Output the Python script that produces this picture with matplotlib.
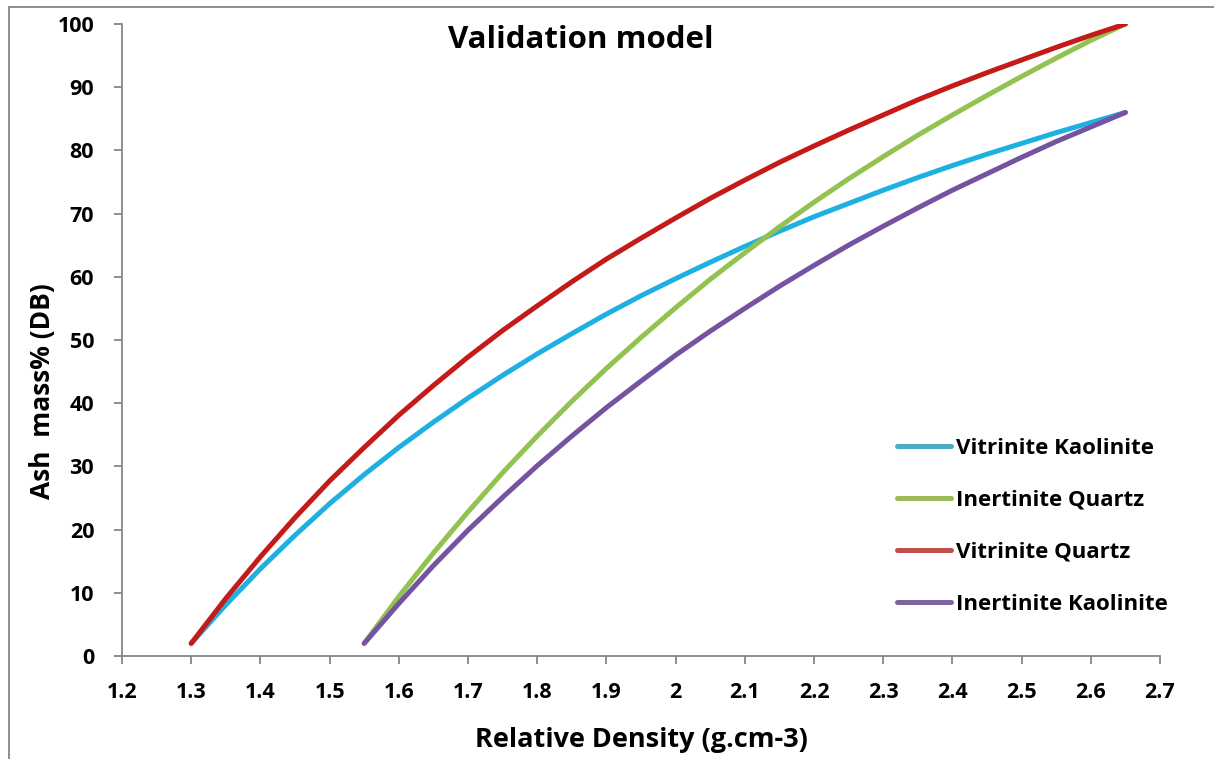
import matplotlib
matplotlib.use("Agg")
import matplotlib.pyplot as plt
from matplotlib.lines import Line2D
from matplotlib.patches import Rectangle
from matplotlib.ticker import FormatStrFormatter, MultipleLocator

# relative density (g.cm-3) vs ash mass% (DB)
vit_density = [1.30, 1.35, 1.40, 1.45, 1.50, 1.55, 1.60, 1.65, 1.70, 1.75,
               1.80, 1.85, 1.90, 1.95, 2.00, 2.05, 2.10, 2.15, 2.20, 2.25,
               2.30, 2.35, 2.40, 2.45, 2.50, 2.55, 2.60, 2.65]
vit_kaolinite = [2.0, 8.1, 13.8, 19.1, 24.1, 28.7, 33.0, 37.0, 40.8, 44.4,
                 47.8, 51.0, 54.1, 57.0, 59.7, 62.3, 64.8, 67.2, 69.5, 71.6,
                 73.7, 75.7, 77.6, 79.4, 81.1, 82.8, 84.4, 86.0]
vit_quartz = [2.0, 9.1, 15.7, 21.9, 27.7, 33.0, 38.1, 42.8, 47.3, 51.5,
              55.4, 59.2, 62.8, 66.1, 69.3, 72.4, 75.3, 78.1, 80.7, 83.2,
              85.6, 88.0, 90.2, 92.3, 94.3, 96.3, 98.2, 100.0]

ine_density = [1.55, 1.60, 1.65, 1.70, 1.75, 1.80, 1.85, 1.90, 1.95, 2.00,
               2.05, 2.10, 2.15, 2.20, 2.25, 2.30, 2.35, 2.40, 2.45, 2.50,
               2.55, 2.60, 2.65]
ine_quartz = [2.0, 9.4, 16.3, 22.8, 29.0, 34.8, 40.3, 45.5, 50.4, 55.1,
              59.6, 63.8, 67.9, 71.8, 75.5, 79.0, 82.4, 85.6, 88.7, 91.7,
              94.6, 97.4, 100.0]
ine_kaolinite = [2.0, 8.3, 14.3, 19.9, 25.1, 30.1, 34.8, 39.3, 43.5, 47.6,
                 51.4, 55.0, 58.5, 61.8, 65.0, 68.0, 70.9, 73.7, 76.3, 78.9,
                 81.4, 83.7, 86.0]

series = [
    ("Vitrinite Kaolinite", vit_density, vit_kaolinite, "#1FB0E2", "#4BACC6"),
    ("Inertinite Quartz", ine_density, ine_quartz, "#92C24F", "#9BBB59"),
    ("Vitrinite Quartz", vit_density, vit_quartz, "#C41A1A", "#C0504D"),
    ("Inertinite Kaolinite", ine_density, ine_kaolinite, "#7453A1", "#8064A2"),
]

plt.rcParams['font.family'] = ['Open Sans', 'DejaVu Sans']
plt.rcParams['font.weight'] = 'bold'
plt.rcParams['ytick.major.pad'] = 14
plt.rcParams['xtick.major.pad'] = 13

fig = plt.figure(figsize=(12.14, 7.59), dpi=100)
ax = fig.add_axes([0.1005, 0.1357, 0.855, 0.8327])

handles = []
for name, xs, ys, line_color, legend_color in series:
    ax.plot(xs, ys, color=line_color, lw=3.6, solid_capstyle='round',
            solid_joinstyle='round')
    handles.append(Line2D([], [], color=legend_color, lw=3.6,
                          solid_capstyle='round', label=name))

ax.set_xlim(1.2, 2.7)
ax.set_ylim(0, 100)
ax.xaxis.set_major_locator(MultipleLocator(0.1))
ax.yaxis.set_major_locator(MultipleLocator(10))
ax.xaxis.set_major_formatter(FormatStrFormatter('%g'))

for side in ['top', 'right']:
    ax.spines[side].set_visible(False)
for side in ['left', 'bottom']:
    ax.spines[side].set_color('#868686')
    ax.spines[side].set_linewidth(1.3)
ax.tick_params(direction='out', length=6, width=1.3, color='#868686',
               labelsize=15.5)
ax.tick_params(axis='y', pad=14)
ax.tick_params(axis='x', pad=13)
for lab in ax.get_xticklabels() + ax.get_yticklabels():
    lab.set_fontweight('bold')

ax.set_xlabel("Relative Density (g.cm-3)", fontsize=19.5, fontweight='bold',
              labelpad=17)
fig.text(43 / 1214, 1 - 391 / 759, "Ash  mass% (DB)", rotation=90,
         fontsize=19, fontweight='bold', ha='center', va='center')
ax.text(0.442, 0.998, "Validation model", transform=ax.transAxes,
        fontsize=22.5, fontweight='bold', ha='center', va='top')

ax.legend(handles=handles, loc='center left', bbox_to_anchor=(0.7274, 0.205),
          frameon=False, fontsize=16, handlelength=2.43, handletextpad=0.22,
          labelspacing=1.4)

# chart area border
fig.patches.append(Rectangle((9 / 1214, -0.05), 1.1, 1 - 7 / 759 + 0.05,
                             transform=fig.transFigure, fill=False,
                             edgecolor='#868686', lw=1.3))

fig.savefig("out.png", dpi=100)
